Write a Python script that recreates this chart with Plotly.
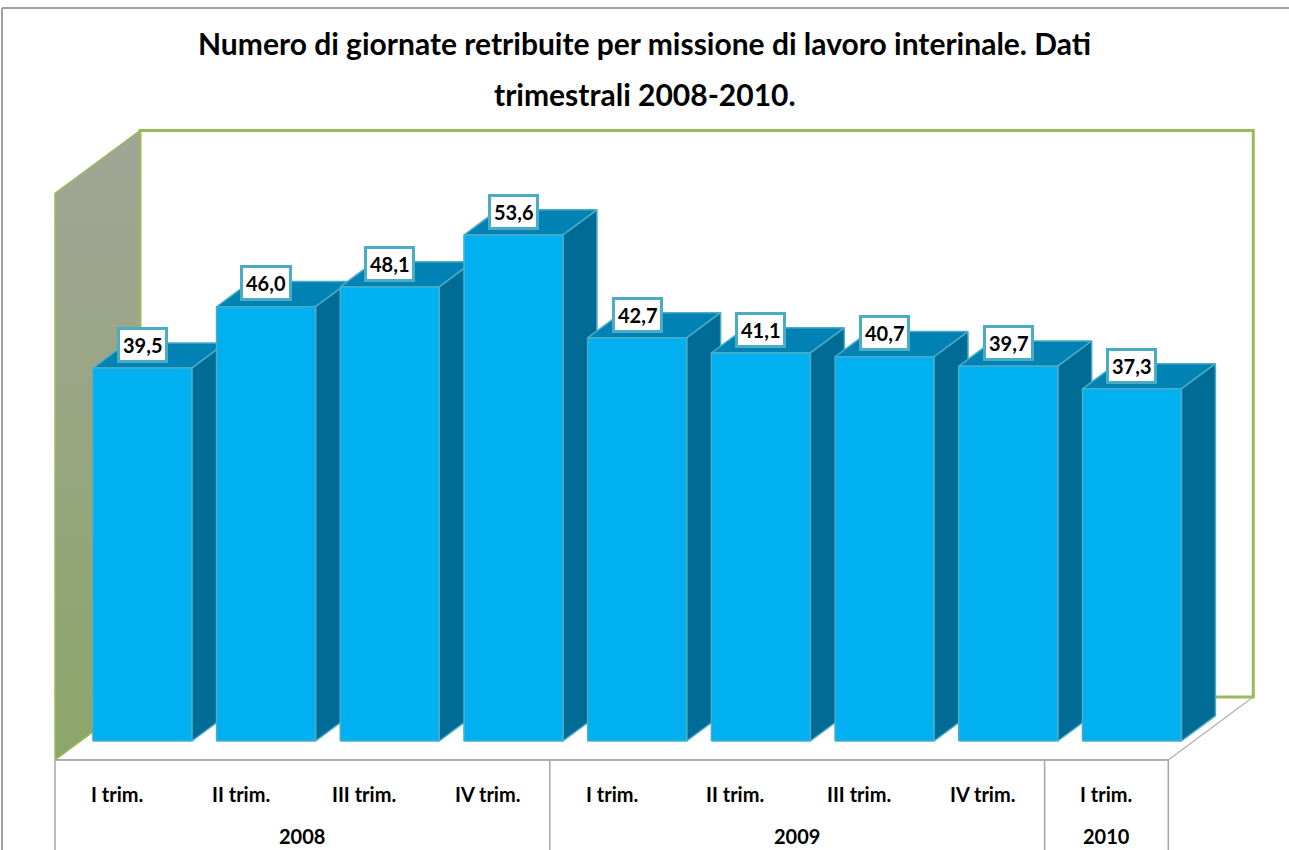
import plotly.graph_objects as go

# ---- data ----
quarters = ["I trim.", "II trim.", "III trim.", "IV trim.",
            "I trim.", "II trim.", "III trim.", "IV trim.", "I trim."]
years = ["2008", "2009", "2010"]
year_counts = [4, 4, 1]
values = [39.5, 46.0, 48.1, 53.6, 42.7, 41.1, 40.7, 39.7, 37.3]
axis_max = 60

title_lines = ["Numero di giornate retribuite per missione di lavoro interinale. Dati",
               "trimestrali 2008-2010."]

# ---- pseudo-3D geometry (in data units) ----
W, H = 1289, 850
PX_CAT, PX_VAL = 123.7, 9.44
X0_PX, Y0_PX = 55, 741
DX, DY = 85 / PX_CAT, 63 / PX_VAL      # full depth offset
FLOOR = -2.0                            # y of value 0 at depth 0
BAR_D0, BAR_D1 = 0.3, 0.7
BAR_W = 0.8
n = len(values)


def proj(u, v, d):
    return u + d * DX, v + FLOOR + d * DY


def poly(pts):
    xs = [p[0] for p in pts] + [pts[0][0]]
    ys = [p[1] for p in pts] + [pts[0][1]]
    return xs, ys


fig = go.Figure()


def add_poly(pts, fill, line_color, line_width, **kw):
    xs, ys = poly(pts)
    fig.add_trace(go.Scatter(x=xs, y=ys, mode="lines", fill="toself",
                             fillcolor=fill, line=dict(color=line_color, width=line_width),
                             hoverinfo="skip", showlegend=False, **kw))


# floor
add_poly([proj(0, 0, 0), proj(n, 0, 0), proj(n, 0, 1), proj(0, 0, 1)],
         "white", "#A6A6A6", 1.2)
# back wall
add_poly([proj(0, 0, 1), proj(n, 0, 1), proj(n, axis_max, 1), proj(0, axis_max, 1)],
         "white", "#9BBB59", 3)
# left wall (gradient)
xs, ys = poly([proj(0, 0, 0), proj(0, 0, 1), proj(0, axis_max, 1), proj(0, axis_max, 0)])
fig.add_trace(go.Scatter(x=xs, y=ys, mode="lines", fill="toself",
                         fillgradient=dict(type="vertical",
                                           colorscale=[[0, "#8CA66A"], [1, "#A2A596"]]),
                         line=dict(color="#9BBB59", width=1.5),
                         hoverinfo="skip", showlegend=False))

FRONT, TOP, SIDE, EDGE = "#00B0F0", "#0082B4", "#006C96", "#4BACC6"
for i, v in enumerate(values):
    l, r = i + (1 - BAR_W) / 2, i + (1 + BAR_W) / 2
    add_poly([proj(l, v, BAR_D0), proj(r, v, BAR_D0), proj(r, v, BAR_D1), proj(l, v, BAR_D1)],
             TOP, EDGE, 1.5)
    add_poly([proj(r, 0, BAR_D0), proj(r, 0, BAR_D1), proj(r, v, BAR_D1), proj(r, v, BAR_D0)],
             SIDE, EDGE, 1.5)
    add_poly([proj(l, 0, BAR_D0), proj(r, 0, BAR_D0), proj(r, v, BAR_D0), proj(l, v, BAR_D0)],
             FRONT, EDGE, 1.5)

# category table lines
y_bottom = (Y0_PX - H - 20) / PX_VAL
fig.add_trace(go.Scatter(x=[0, n], y=[FLOOR, FLOOR], mode="lines",
                         line=dict(color="#A6A6A6", width=1.5), hoverinfo="skip", showlegend=False))
bounds = [0]
for c in year_counts:
    bounds.append(bounds[-1] + c)
for b in bounds:
    fig.add_trace(go.Scatter(x=[b, b], y=[FLOOR, y_bottom], mode="lines",
                             line=dict(color="#A6A6A6", width=1.5), hoverinfo="skip",
                             showlegend=False))

annotations = []
lab_font = dict(family="Lato", size=20, color="black", weight="bold")
for i, q in enumerate(quarters):
    annotations.append(dict(x=i + 0.5, y=FLOOR - 3.6, text=q, showarrow=False,
                            xref="x", yref="y", yanchor="middle", font=lab_font))
for k, yr in enumerate(years):
    annotations.append(dict(x=(bounds[k] + bounds[k + 1]) / 2, y=FLOOR - 8.1, text=yr,
                            showarrow=False, xref="x", yref="y", yanchor="middle",
                            font=lab_font))
# value labels
for i, v in enumerate(values):
    cx, cy = proj(i + 0.5, v, BAR_D1)
    annotations.append(dict(x=i + 0.5 + BAR_D0 * DX, y=cy - 0.2,
                            text=f"{v:.1f}".replace(".", ","), showarrow=False,
                            xref="x", yref="y", yanchor="middle", bgcolor="white",
                            bordercolor=EDGE, borderwidth=3, borderpad=3,
                            font=dict(family="Lato", size=20, color="black", weight="bold")))
# title
title_y_px = [43, 94]
for t, ypx in zip(title_lines, title_y_px):
    annotations.append(dict(x=0.5, y=1 - ypx / H, xref="paper", yref="paper",
                            xanchor="center", yanchor="middle",
                            text=t, showarrow=False,
                            font=dict(family="Lato", size=30, color="black", weight="bold")))

shapes = [
    dict(type="line", xref="paper", yref="paper", x0=2 / W, x1=1.0, y0=1 - 8 / H, y1=1 - 8 / H,
         line=dict(color="#A0A0A0", width=2)),
    dict(type="line", xref="paper", yref="paper", x0=2 / W, x1=2 / W, y0=0, y1=1 - 8 / H,
         line=dict(color="#A0A0A0", width=2)),
]

fig.update_layout(
    width=W, height=H,
    margin=dict(l=0, r=0, t=0, b=0),
    paper_bgcolor="white", plot_bgcolor="white",
    xaxis=dict(range=[-X0_PX / PX_CAT, (W - X0_PX) / PX_CAT], visible=False, fixedrange=True),
    yaxis=dict(range=[(Y0_PX - H) / PX_VAL, Y0_PX / PX_VAL], visible=False, fixedrange=True),
    annotations=annotations, shapes=shapes, showlegend=False,
)

fig.write_html("out.html", config={"displayModeBar": False},
               post_script="document.body.style.margin='0';document.body.style.overflow='hidden';")
